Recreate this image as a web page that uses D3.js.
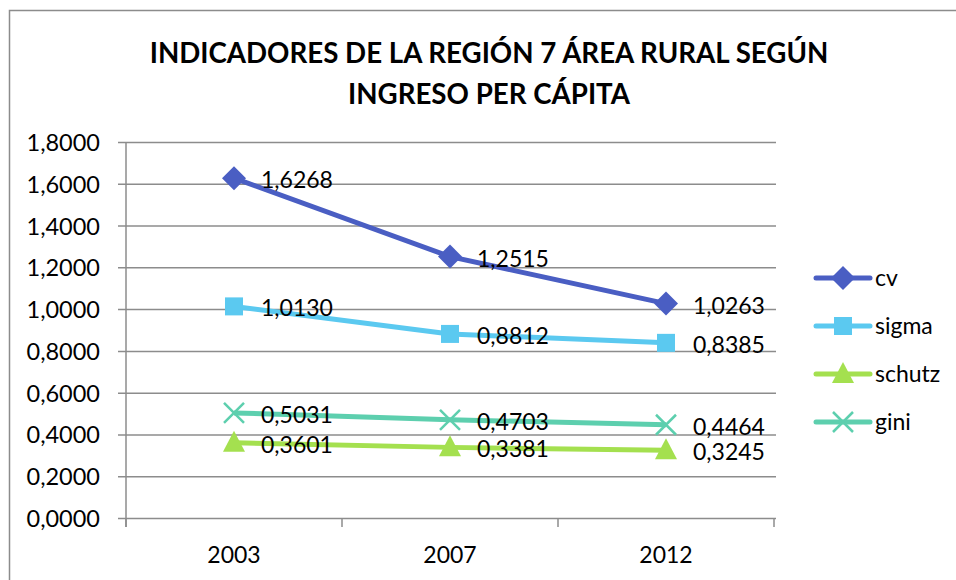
<!DOCTYPE html>
<html>
<head>
<meta charset="utf-8">
<script src="https://cdn.jsdelivr.net/npm/d3@7"></script>
<style>
    body { margin: 0; background: #fff; }
    svg text { font-family: Lato, "Open Sans", sans-serif; fill: #000; }
</style>
</head>
<body>
<div id="chart"></div>
<script>
//data:
var years = ["2003", "2007", "2012"];
var cv = [1.6268, 1.2515, 1.0263];
var sigma = [1.0130, 0.8812, 0.8385];
var schutz = [0.3601, 0.3381, 0.3245];
var gini = [0.5031, 0.4703, 0.4464];
var yTicks = [0, 0.2, 0.4, 0.6, 0.8, 1.0, 1.2, 1.4, 1.6, 1.8];
var titleLines = ["INDICADORES DE LA REGIÓN 7 ÁREA RURAL SEGÚN", "INGRESO PER CÁPITA"];

var series = [
    {name: "cv", values: cv, color: "#4a5ec3", marker: "diamond"},
    {name: "sigma", values: sigma, color: "#5bc9f0", marker: "square"},
    {name: "schutz", values: schutz, color: "#a4e04f", marker: "triangle"},
    {name: "gini", values: gini, color: "#5dcfae", marker: "cross"}
];

var width = 956, height = 580;
// plot area bounds ("top" is taken by window.top)
var plotLeft = 126, plotRight = 774, plotTop = 142, plotBottom = 518;

var svg = d3.select("#chart")
    .append("svg")
    .attr("width", width)
    .attr("height", height);

//outer frame (runs off the right and bottom edge)
svg.append("rect")
    .attr("x", 9.5)
    .attr("y", 10.5)
    .attr("width", 980)
    .attr("height", 600)
    .attr("fill", "none")
    .attr("stroke", "#8c8c8c")
    .attr("stroke-width", 1.5);

//title
svg.append("text")
    .attr("text-anchor", "middle")
    .attr("font-weight", "bold")
    .attr("font-size", "27.7px")
    .selectAll("tspan")
    .data(titleLines)
    .enter()
    .append("tspan")
    .attr("x", 489)
    .attr("y", function (d, i) { return 63 + i * 41; })
    .text(function (d) { return d; });

//scales
var xScale = d3.scaleBand().domain(years).range([plotLeft, plotRight]);
var yScale = d3.scaleLinear().domain([0, 1.8]).range([plotBottom, plotTop]);

var fmt = function (v) { return d3.format(".4f")(v).replace(".", ","); };

//y axis with gridlines
var yAxis = d3.axisLeft(yScale)
    .tickValues(yTicks)
    .tickFormat(fmt)
    .tickSize(-(plotRight - plotLeft + 2))
    .tickPadding(26);

var gy = svg.append("g")
    .attr("transform", "translate(" + plotLeft + ",0)")
    .call(yAxis);
gy.select(".domain").remove();
gy.selectAll(".tick line")
    .attr("x1", -8)
    .attr("stroke", "#8c8c8c")
    .attr("stroke-width", 1.5);
gy.selectAll(".tick text")
    .attr("font-size", "23.5px")
    .attr("dy", "0.36em");

//vertical axis line
svg.append("line")
    .attr("x1", plotLeft).attr("x2", plotLeft)
    .attr("y1", plotTop).attr("y2", plotBottom + 9)
    .attr("stroke", "#8c8c8c")
    .attr("stroke-width", 1.5);

//x axis: ticks between categories
var xAxis = d3.axisBottom(xScale).tickSize(0).tickPadding(29);
var gx = svg.append("g")
    .attr("transform", "translate(0," + plotBottom + ")")
    .call(xAxis);
gx.select(".domain").remove();
gx.selectAll(".tick text").attr("font-size", "23px");

var bounds = years.map(function (d) { return xScale(d); }).concat([plotRight]);
svg.selectAll(".xsep")
    .data(bounds)
    .enter()
    .append("line")
    .attr("x1", function (d) { return d; })
    .attr("x2", function (d) { return d; })
    .attr("y1", plotBottom)
    .attr("y2", plotBottom + 9)
    .attr("stroke", "#8c8c8c")
    .attr("stroke-width", 1.5);

//marker helper
function drawMarker(g, type, color) {
    if (type === "diamond") {
        g.append("path").attr("d", "M0,-12L12,0L0,12L-12,0Z").attr("fill", color);
    } else if (type === "square") {
        g.append("rect").attr("x", -9).attr("y", -9).attr("width", 18).attr("height", 18).attr("fill", color);
    } else if (type === "triangle") {
        g.append("path").attr("d", "M0,-12L11,9L-11,9Z").attr("fill", color);
    } else {
        g.append("path").attr("d", "M-10,-10L10,10M-10,10L10,-10")
            .attr("stroke", color).attr("stroke-width", 2.5).attr("fill", "none");
    }
}

var xCenter = function (i) { return xScale(years[i]) + xScale.bandwidth() / 2; };

var lineGen = d3.line()
    .x(function (d, i) { return xCenter(i); })
    .y(function (d) { return yScale(d); });

//lines, markers and value labels
series.forEach(function (s) {
    svg.append("path")
        .datum(s.values)
        .attr("d", lineGen)
        .attr("fill", "none")
        .attr("stroke", s.color)
        .attr("stroke-width", 5)
        .attr("stroke-linejoin", "round");

    s.values.forEach(function (v, i) {
        var g = svg.append("g")
            .attr("transform", "translate(" + xCenter(i) + "," + yScale(v) + ")");
        drawMarker(g, s.marker, s.color);
    });

    svg.selectAll(null)
        .data(s.values)
        .enter()
        .append("text")
        .attr("x", function (d, i) { return xCenter(i) + 27; })
        .attr("y", function (d) { return yScale(d) + 10; })
        .attr("font-size", "23px")
        .text(fmt);
});

//legend
var legend = svg.append("g");
series.forEach(function (s, i) {
    var y = 278 + i * 48;
    legend.append("line")
        .attr("x1", 816).attr("x2", 870)
        .attr("y1", y).attr("y2", y)
        .attr("stroke", s.color)
        .attr("stroke-width", 5)
        .attr("stroke-linecap", "round");
    drawMarker(legend.append("g").attr("transform", "translate(843," + y + ")"), s.marker, s.color);
    legend.append("text")
        .attr("x", 875)
        .attr("y", y + 8)
        .attr("font-size", "23px")
        .text(s.name);
});
</script>
</body>
</html>
